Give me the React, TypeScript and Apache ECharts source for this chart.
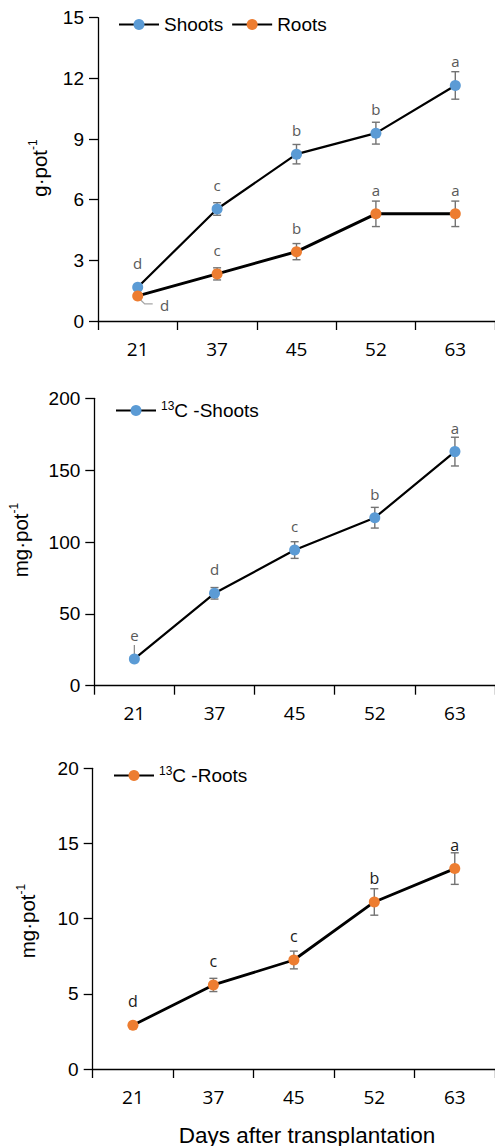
import React, { useEffect, useRef } from "react";
import * as echarts from "echarts";

// ---------------- data ----------------
const days = ["21", "37", "45", "52", "63"];

const shootsDW = [1.67, 5.54, 8.25, 9.29, 11.65];
const shootsDWErr = [0, 0.31, 0.48, 0.54, 0.68];
const shootsDWLetters = ["d", "c", "b", "b", "a"];

const rootsDW = [1.24, 2.33, 3.43, 5.3, 5.3];
const rootsDWErr = [0, 0.3, 0.4, 0.63, 0.63];
const rootsDWLetters = ["d", "c", "b", "a", "a"];

const shoots13C = [18.6, 64.3, 94.4, 116.9, 162.9];
const shoots13CErr = [0, 4, 5.8, 7.2, 10];
const shoots13CLetters = ["e", "d", "c", "b", "a"];

const roots13C = [2.91, 5.59, 7.25, 11.11, 13.33];
const roots13CErr = [0, 0.44, 0.59, 0.88, 1.05];
const roots13CLetters = ["d", "c", "c", "b", "a"];

const dwTicks = [0, 3, 6, 9, 12, 15];
const shoots13CTicks = [0, 50, 100, 150, 200];
const roots13CTicks = [0, 5, 10, 15, 20];

// ---------------- styles ----------------
const BLUE = "#5B9BD5";
const ORANGE = "#ED7D31";
const SANS = "'Liberation Sans', Arial, sans-serif";
const OPEN = "'Open Sans', 'Noto Sans', sans-serif";

const grids = [
  { left: 98, top: 17.7, width: 397, height: 303.3 },
  { left: 94.3, top: 398.3, width: 401, height: 287.4 },
  { left: 92.7, top: 768.3, width: 402.5, height: 300.7 },
];

function yAxisFor(ticks: number[], gi: number) {
  return {
    type: "value",
    gridIndex: gi,
    min: ticks[0],
    max: ticks[ticks.length - 1],
    interval: ticks[1] - ticks[0],
    splitLine: { show: false },
    axisLine: { show: true, lineStyle: { color: "#000", width: 1.3 } },
    axisTick: { show: true, length: 9, lineStyle: { color: "#000", width: 1.3 } },
    axisLabel: { fontFamily: SANS, fontSize: 19, color: "#000", margin: 14 },
  };
}

function xAxisFor(gi: number) {
  return {
    type: "category",
    gridIndex: gi,
    data: days,
    boundaryGap: true,
    axisLine: { show: true, lineStyle: { color: "#000", width: 1.3 } },
    axisTick: { show: true, length: 9, lineStyle: { color: "#000", width: 1.3 } },
    axisLabel: { fontFamily: OPEN, fontSize: 19, color: "#000", margin: 18 },
  };
}

function lineSeries(
  name: string,
  values: number[],
  letters: string[],
  gi: number,
  color: string,
  width: number,
  labelColor: string,
  labelSize: number,
  firstOffset?: number[]
) {
  return {
    type: "line",
    name,
    xAxisIndex: gi,
    yAxisIndex: gi,
    z: 3,
    symbol: "circle",
    symbolSize: 11,
    lineStyle: { color: "#000", width },
    itemStyle: { color },
    data: values.map((v, i) => {
      const item: any = { value: v };
      if (i === 0 && firstOffset) item.label = { offset: firstOffset };
      return item;
    }),
    label: {
      show: true,
      position: "inside",
      offset: [0, -24],
      formatter: (p: any) => letters[p.dataIndex],
      fontFamily: OPEN,
      fontSize: labelSize,
      color: labelColor,
    },
  };
}

function errSeries(values: number[], errs: number[], gi: number, leader?: string) {
  return {
    type: "custom",
    xAxisIndex: gi,
    yAxisIndex: gi,
    z: 1,
    silent: true,
    data: values.map((v, i) => [i, v, errs[i]]),
    renderItem: (params: any, api: any) => {
      const i = api.value(0);
      const v = api.value(1);
      const e = api.value(2);
      const children: any[] = [];
      const stroke = { stroke: "#737373", lineWidth: 1.4 };
      if (e > 0) {
        const t = api.coord([i, v + e]);
        const b = api.coord([i, v - e]);
        children.push({ type: "line", shape: { x1: t[0], y1: t[1], x2: b[0], y2: b[1] }, style: stroke });
        children.push({ type: "line", shape: { x1: t[0] - 4, y1: t[1], x2: t[0] + 4, y2: t[1] }, style: stroke });
        children.push({ type: "line", shape: { x1: b[0] - 4, y1: b[1], x2: b[0] + 4, y2: b[1] }, style: stroke });
      }
      if (leader && params.dataIndex === 0) {
        const c = api.coord([i, v]);
        if (leader === "side") {
          children.push({
            type: "polyline",
            shape: { points: [[c[0] + 2, c[1] + 3], [c[0] + 7, c[1] + 8], [c[0] + 15, c[1] + 8]] },
            style: { stroke: "#a6a6a6", lineWidth: 1.3, fill: "none" },
          });
        } else {
          children.push({
            type: "line",
            shape: { x1: c[0], y1: c[1], x2: c[0], y2: c[1] - 14 },
            style: { stroke: "#8c8c8c", lineWidth: 1.3 },
          });
        }
      }
      return { type: "group", children };
    },
  };
}

function legendFor(names: string[], left: number, top: number) {
  return {
    data: names,
    left,
    top,
    padding: 0,
    itemGap: 8,
    itemWidth: 40,
    itemHeight: 13.75,
    formatter: (n: string) => (n.indexOf("13C") === 0 ? "{s|13}C " + n.slice(3) : n),
    textStyle: {
      fontFamily: SANS,
      fontSize: 19,
      color: "#000",
      rich: { s: { fontFamily: SANS, fontSize: 12, color: "#000", verticalAlign: "top", lineHeight: 21 } },
    },
  };
}

function yName(main: string, x: number, y: number) {
  return {
    type: "text",
    x,
    y,
    rotation: Math.PI / 2,
    style: {
      text: "{m|" + main + "}{s|-1}",
      align: "center",
      verticalAlign: "middle",
      rich: {
        m: { fontFamily: SANS, fontSize: 20.5, fill: "#000", lineHeight: 24 },
        s: { fontFamily: SANS, fontSize: 12, fill: "#000", verticalAlign: "top", lineHeight: 24 },
      },
    },
  };
}

export default function App() {
  const ref = useRef<HTMLDivElement>(null);
  useEffect(() => {
    if (!ref.current) return;
    const chart = echarts.init(ref.current, undefined, { renderer: "svg" });
    chart.setOption({
      animation: false,
      grid: grids,
      xAxis: [xAxisFor(0), xAxisFor(1), xAxisFor(2)],
      yAxis: [yAxisFor(dwTicks, 0), yAxisFor(shoots13CTicks, 1), yAxisFor(roots13CTicks, 2)],
      legend: [
        legendFor(["Shoots", "Roots"], 118, 15),
        legendFor(["13C-Shoots"], 115, 400),
        legendFor(["13C-Roots"], 113, 765),
      ],
      series: [
        errSeries(shootsDW, shootsDWErr, 0),
        errSeries(rootsDW, rootsDWErr, 0, "side"),
        errSeries(shoots13C, shoots13CErr, 1, "up"),
        errSeries(roots13C, roots13CErr, 2),
        lineSeries("Shoots", shootsDW, shootsDWLetters, 0, BLUE, 2.2, "#595959", 15),
        lineSeries("Roots", rootsDW, rootsDWLetters, 0, ORANGE, 3, "#595959", 15, [27, 9]),
        lineSeries("13C-Shoots", shoots13C, shoots13CLetters, 1, BLUE, 2.2, "#595959", 15),
        lineSeries("13C-Roots", roots13C, roots13CLetters, 2, ORANGE, 2.8, "#1a1a1a", 16),
      ],
      graphic: [
        yName("g·pot", 39, 168),
        yName("mg·pot", 20, 540),
        yName("mg·pot", 27, 921),
        {
          type: "text",
          x: 307,
          y: 1135,
          style: {
            text: "Days after transplantation",
            fontFamily: SANS,
            fontSize: 22.5,
            fill: "#000",
            align: "center",
            verticalAlign: "middle",
          },
        },
      ],
    });
    return () => chart.dispose();
  }, []);
  return (
    <div
      ref={ref}
      style={{ position: "absolute", left: 0, top: 0, width: 495, height: 1146 }}
    />
  );
}
